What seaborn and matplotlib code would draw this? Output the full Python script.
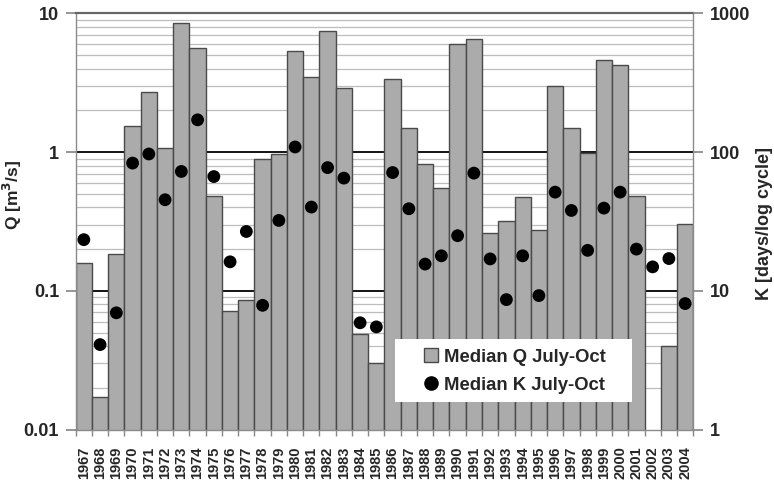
import numpy as np
import pandas as pd
import matplotlib
matplotlib.use("Agg")
import matplotlib.pyplot as plt
from matplotlib.ticker import FixedLocator, NullFormatter, NullLocator
from matplotlib.patches import Patch, Rectangle
from matplotlib.lines import Line2D
import seaborn as sns

years = list(range(1967, 2005))
median_q = [0.159, 0.0172, 0.185, 1.55, 2.72, 1.07, 8.56, 5.62, 0.487, 0.072,
            0.0865, 0.891, 0.972, 5.35, 3.50, 7.42, 2.89, 0.049, 0.0303, 3.37,
            1.49, 0.824, 0.551, 5.98, 6.53, 0.261, 0.321, 0.474, 0.276, 3.0,
            1.49, 0.98, 4.61, 4.25, 0.487, np.nan, 0.040, 0.305]
median_k = [23.4, 4.1, 6.95, 83.4, 97, 45.4, 72.6, 171, 66.7, 16.2,
            26.8, 7.87, 32.2, 109, 40.2, 77.4, 65, 5.89, 5.5, 71.3,
            39.1, 15.6, 17.9, 25, 70.6, 17, 8.65, 17.9, 9.25, 51.5,
            38, 19.6, 39.5, 51.5, 20, 14.9, 17.1, 8.1]
q_ticks = [0.01, 0.1, 1, 10]
q_tick_labels = ["0.01", "0.1", "1", "10"]
k_ticks = [1, 10, 100, 1000]
k_tick_labels = ["1", "10", "100", "1000"]

sns.set_theme(style="white")
plt.rcParams["font.family"] = ["Liberation Sans", "DejaVu Sans"]
plt.rcParams["font.weight"] = "bold"

labels = [str(y) for y in years]
df = pd.DataFrame({"year": labels, "Q": median_q, "K": median_k})

fig = plt.figure(figsize=(7.74, 4.8), dpi=100)
ax = fig.add_axes([0.0978, 0.105, 0.7979, 0.867])
ax.set_yscale("log")
ax.set_ylim(0.01, 10)

# horizontal grid: light minor lines, black decade lines
minor_vals = [m * 10.0 ** e for e in (-2, -1, 0) for m in range(2, 10)]
for v in minor_vals:
    ax.axhline(v, color="#bdbdbd", lw=0.9, zorder=0)
for v in (0.1, 1):
    ax.axhline(v, color="black", lw=1.3, zorder=0.5)

bar_color = "#ababab"
bar_edge = "#4a4a4a"
sns.barplot(data=df, x="year", y="Q", order=labels, ax=ax, color=bar_color,
            edgecolor=bar_edge, linewidth=1.0, width=1.0, saturation=1,
            zorder=2)

n = len(years)
ax.set_xlim(-0.5, n - 0.5)
ax.set_ylim(0.01, 10)
ax.yaxis.set_major_locator(FixedLocator(q_ticks))
ax.set_yticklabels(q_tick_labels)
ax.yaxis.set_minor_locator(NullLocator())
ax.yaxis.set_minor_formatter(NullFormatter())
ax.set_xticks(range(n))
ax.set_xticklabels(labels, rotation=90, fontsize=10.5, fontweight="bold")
ax.xaxis.set_minor_locator(FixedLocator(np.arange(-0.5, n, 1.0)))
ax.tick_params(axis="x", which="major", length=0, pad=12)
ax.tick_params(axis="x", which="minor", length=4, color="#888888", bottom=True)
ax.tick_params(axis="y", which="major", length=7, color="#888888",
               labelsize=13, left=True, pad=5)
ax.set_xlabel("")
ax.set_ylabel("Q [m$^3$/s]", fontsize=12.5, fontweight="bold")
ax.yaxis.set_label_coords(-0.084, 0.563)
for side in ("left", "right", "bottom"):
    ax.spines[side].set_color("#8a8a8a")
    ax.spines[side].set_linewidth(1.0)
ax.spines["top"].set_color("#666666")
ax.spines["top"].set_linewidth(1.6)

ax2 = ax.twinx()
ax2.set_yscale("log")
sns.scatterplot(x=np.arange(n), y=median_k, ax=ax2, color="black", s=85,
                edgecolor="none", zorder=3, legend=False)
ax2.set_ylim(1, 1000)
ax2.set_xlim(-0.5, n - 0.5)
ax2.yaxis.set_major_locator(FixedLocator(k_ticks))
ax2.set_yticklabels(k_tick_labels)
ax2.yaxis.set_minor_locator(NullLocator())
ax2.yaxis.set_minor_formatter(NullFormatter())
ax2.tick_params(axis="y", which="major", length=7, color="#888888",
                labelsize=13, right=True, pad=5)
ax2.set_ylabel("K [days/log cycle]", fontsize=13, fontweight="bold",
               rotation=90)
ax2.yaxis.set_label_coords(1.1016, 0.496)
for side in ax2.spines:
    ax2.spines[side].set_visible(False)

# white legend panel
ax2.add_patch(Rectangle((0.517, 0.066), 0.384, 0.1515, transform=ax2.transAxes,
                        facecolor="white", edgecolor="none", zorder=4))
handles = [
    Patch(facecolor=bar_color, edgecolor=bar_edge, linewidth=1.0),
    Line2D([], [], marker="o", color="black", linestyle="none", markersize=9.5),
]
leg = ax2.legend(handles, ["Median Q July-Oct", "Median K July-Oct"],
                 loc="center", bbox_to_anchor=(0.711, 0.1405),
                 frameon=False, prop={"size": 13.3, "weight": "bold"},
                 handlelength=0.75, handleheight=0.75, handletextpad=0.35,
                 borderpad=0.2, labelspacing=0.6)
leg.set_zorder(5)

fig.savefig("out.png", dpi=100)
